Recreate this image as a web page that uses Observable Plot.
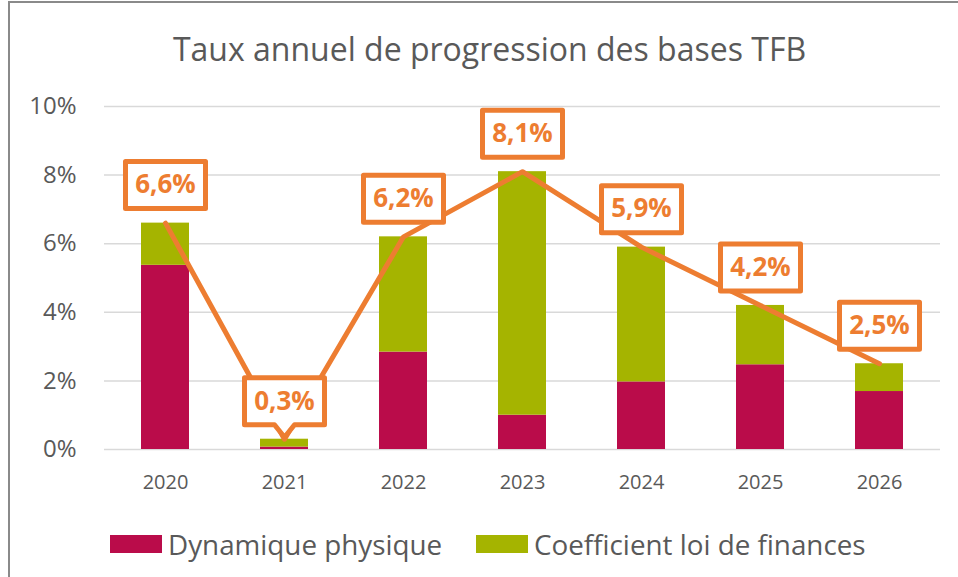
<!DOCTYPE html>
<html>
<head>
<meta charset="utf-8">
<script src="https://cdn.jsdelivr.net/npm/d3@7"></script>
<script src="https://cdn.jsdelivr.net/npm/@observablehq/plot@0.6"></script>
<style>
  html, body { margin: 0; padding: 0; background: #fff; }
  #wrap { position: relative; width: 958px; height: 577px; overflow: hidden; font-family: "Open Sans", Lato, sans-serif; color: #595959; }
  #frame { position: absolute; left: 8px; top: 1px; width: 960px; height: 600px; border-left: 2px solid #8a8a8a; border-top: 2px solid #8a8a8a; box-sizing: border-box; }
  #title { position: absolute; top: 0; left: 0; width: 979px; height: 90px; line-height: 98px; text-align: center; font-size: 32px; color: #595959; }
  #chart { position: absolute; top: 90px; left: 0; }
  #legend { position: absolute; top: 510px; left: 0; width: 958px; height: 67px; font-size: 27.8px; color: #595959; }
  .item { position: absolute; top: 0; height: 67px; display: flex; align-items: center; }
  .sw { width: 52px; height: 18px; margin-right: 6px; }
</style>
</head>
<body>
<div id="wrap">
  <div id="frame"></div>
  <div id="title">Taux annuel de progression des bases TFB</div>
  <div id="chart"></div>
  <div id="legend"></div>
</div>
<script>
const years = ["2020", "2021", "2022", "2023", "2024", "2025", "2026"];
const dynamiquePhysique = [5.37, 0.07, 2.84, 1.0, 1.97, 2.47, 1.69];
const coefficientLoi   = [1.23, 0.23, 3.36, 7.1, 3.93, 1.73, 0.81];
const totals           = [6.6, 0.3, 6.2, 8.1, 5.9, 4.2, 2.5];
const seriesNames = ["Dynamique physique", "Coefficient loi de finances"];
const seriesColors = ["#BA0C4A", "#A5B400"];
const yTicks = [0, 2, 4, 6, 8, 10];
const calloutYears = ["2021"];

const orange = "#ED7D31";
const font = "'Open Sans', Lato, sans-serif";

const stacked = [];
years.forEach((y, i) => {
  stacked.push({year: y, series: seriesNames[0], value: dynamiquePhysique[i]});
  stacked.push({year: y, series: seriesNames[1], value: coefficientLoi[i]});
});
const totalData = years.map((y, i) => ({year: y, total: totals[i]}));

const rectSymbol = {
  draw(ctx) {
    ctx.moveTo(-40, -23.5);
    ctx.lineTo(40, -23.5);
    ctx.lineTo(40, 23.5);
    ctx.lineTo(-40, 23.5);
    ctx.closePath();
  }
};
const calloutSymbol = {
  draw(ctx) {
    ctx.moveTo(-40, -23.5);
    ctx.lineTo(40, -23.5);
    ctx.lineTo(40, 23.5);
    ctx.lineTo(10, 23.5);
    ctx.lineTo(0, 36);
    ctx.lineTo(-10, 23.5);
    ctx.lineTo(-40, 23.5);
    ctx.closePath();
  }
};

const fmt = v => v.toFixed(1).replace(".", ",") + "%";

const plot = Plot.plot({
  width: 958,
  height: 420,
  marginLeft: 104,
  marginRight: 18,
  marginTop: 16,
  marginBottom: 61,
  style: {fontFamily: font, color: "#595959", background: "transparent", overflow: "visible"},
  x: {domain: years, paddingInner: 0.6, paddingOuter: 0.3, label: null},
  y: {domain: [0, 10], label: null},
  color: {domain: seriesNames, range: seriesColors},
  marks: [
    Plot.gridY(yTicks, {stroke: "#D9D9D9", strokeOpacity: 1, strokeWidth: 1.5}),
    Plot.axisY(yTicks, {tickSize: 0, tickPadding: 28, tickFormat: d => d + "%", fontSize: 24, fill: "#595959", label: null}),
    Plot.axisX({tickSize: 0, tickPadding: 25, fontSize: 20, fill: "#595959", label: null}),
    Plot.barY(stacked, {x: "year", y: "value", fill: "series", order: seriesNames}),
    Plot.line(totalData, {x: "year", y: "total", stroke: orange, strokeWidth: 5, strokeLinecap: "round", strokeLinejoin: "round"}),
    Plot.dot(totalData.filter(d => !calloutYears.includes(d.year)), {x: "year", y: "total", dy: -38, r: 10, symbol: rectSymbol, fill: "white", stroke: orange, strokeWidth: 5, strokeLinejoin: "round"}),
    Plot.dot(totalData.filter(d => calloutYears.includes(d.year)), {x: "year", y: "total", dy: -38, r: 10, symbol: calloutSymbol, fill: "white", stroke: orange, strokeWidth: 5, strokeLinejoin: "round"}),
    Plot.text(totalData, {x: "year", y: "total", dy: -38, text: d => fmt(d.total), fill: orange, fontSize: 26, fontWeight: "bold"})
  ]
});
document.getElementById("chart").appendChild(plot);

const legend = document.getElementById("legend");
const positions = [110, 476];
seriesNames.forEach((name, i) => {
  const item = document.createElement("div");
  item.className = "item";
  item.style.left = positions[i] + "px";
  const sw = document.createElement("div");
  sw.className = "sw";
  sw.style.background = seriesColors[i];
  const t = document.createElement("span");
  t.textContent = name;
  item.appendChild(sw);
  item.appendChild(t);
  legend.appendChild(item);
});
</script>
</body>
</html>
